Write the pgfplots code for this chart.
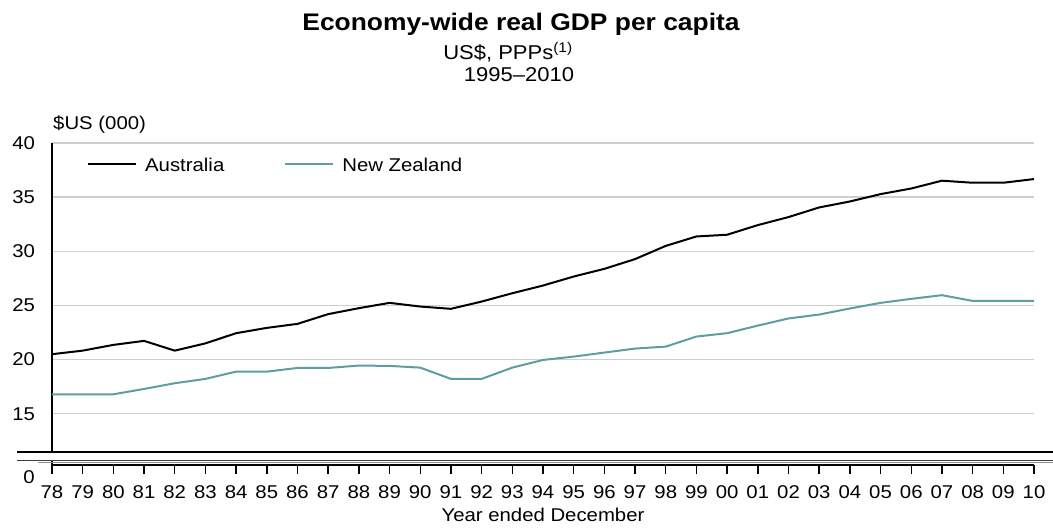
\documentclass[border=0pt]{standalone}
\usepackage{fontspec}
\setmainfont{Liberation Sans}[FakeStretch=1.1]
\usepackage{pgfplots}
\pgfplotsset{compat=1.18}
\definecolor{nzteal}{RGB}{95,158,160}
\definecolor{gridgray}{RGB}{206,206,206}
\definecolor{breakgray}{RGB}{140,140,140}
\newcommand{\fs}{\fontsize{18.5}{22}\selectfont}
\begin{document}
\begin{tikzpicture}
\path[use as bounding box] (-52pt,-63pt) rectangle (1001pt,465pt);
\begin{axis}[
  at={(0pt,0pt)}, anchor=south west,
  scale only axis, width=982pt, height=322pt,
  xmin=0, xmax=32, ymin=10.27, ymax=40,
  enlargelimits=false,
  axis x line=bottom, axis y line=left,
  axis line style={-, line width=1.6pt, black},
  xtick={0,...,32},
  xticklabels={78,79,80,81,82,83,84,85,86,87,88,89,90,91,92,93,94,95,96,97,98,99,00,01,02,03,04,05,06,07,08,09,10},
  ytick={15,20,25,30,35,40},
  ymajorgrids, grid style={gridgray, line width=1.4pt},
  tick align=outside, major tick length=8.5pt,
  xtick style={black, line width=1.4pt},
  ytick style={draw=none},
  tick label style={font=\fs},
  xticklabel style={yshift=-9pt},
  yticklabel style={xshift=-5pt},
  /pgf/number format/assume math mode=true,
  clip=false,
  legend columns=2,
  legend cell align=left,
  legend image code/.code={\draw[#1] (0pt,2pt) -- (48pt,2pt);},
  legend style={draw=none, fill=none, at={(0.0356,0.93)}, anchor=west,
    inner sep=0pt, nodes={inner sep=0pt, font=\fs},
    /tikz/every odd column/.append style={column sep=8pt},
    /tikz/every even column/.append style={column sep=60pt}},
]
\addplot[black, line width=2pt] coordinates {
(0,20.5) (1,20.83) (2,21.36) (3,21.73) (4,20.83) (5,21.5) (6,22.44) (7,22.93)
(8,23.3) (9,24.2) (10,24.75) (11,25.24) (12,24.9) (13,24.69) (14,25.36) (15,26.13)
(16,26.84) (17,27.67) (18,28.38) (19,29.28) (20,30.5) (21,31.37) (22,31.53) (23,32.42)
(24,33.16) (25,34.05) (26,34.6) (27,35.28) (28,35.8) (29,36.52) (30,36.33) (31,36.33) (32,36.67)
};
\addlegendentry{Australia}
\addplot[nzteal, line width=2pt] coordinates {
(0,16.8) (1,16.8) (2,16.8) (3,17.29) (4,17.82) (5,18.22) (6,18.89) (7,18.89)
(8,19.23) (9,19.23) (10,19.45) (11,19.42) (12,19.26) (13,18.22) (14,18.22) (15,19.26)
(16,19.97) (17,20.28) (18,20.65) (19,21.02) (20,21.2) (21,22.13) (22,22.44) (23,23.14)
(24,23.8) (25,24.16) (26,24.72) (27,25.24) (28,25.61) (29,25.95) (30,25.42) (31,25.42) (32,25.42)
};
\addlegendentry{New Zealand}
\end{axis}
% axis break
\fill[white] (-36pt,3.6pt) rectangle (1001pt,12pt);
\draw[black, line width=2pt] (-35pt,13pt) -- (1001pt,13pt);
\draw[black!75, line width=0.8pt] (-35pt,4.8pt) -- (1001pt,4.8pt);
\draw[breakgray, line width=1pt] (-14pt,2.6pt) -- (1001pt,2.6pt);
\node[anchor=east, inner sep=0pt, font=\fs] at (-17pt,-12.5pt) {0};
% titles
\node[anchor=base, font=\bfseries\fontsize{24}{28}\selectfont] at (469pt,434pt) {Economy-wide real GDP per capita};
\node[anchor=base, font=\fontsize{20}{24}\selectfont] at (456pt,405pt) {US\$, PPPs\textsuperscript{(1)}};
\node[anchor=base, font=\fontsize{20}{24}\selectfont] at (467pt,383pt) {1995--2010};
\node[anchor=base west, inner sep=0pt, font=\fs] at (1pt,335pt) {\$US (000)};
\node[anchor=base, inner sep=0pt, font=\fs] at (491pt,-56pt) {Year ended December};
\end{tikzpicture}
\end{document}
